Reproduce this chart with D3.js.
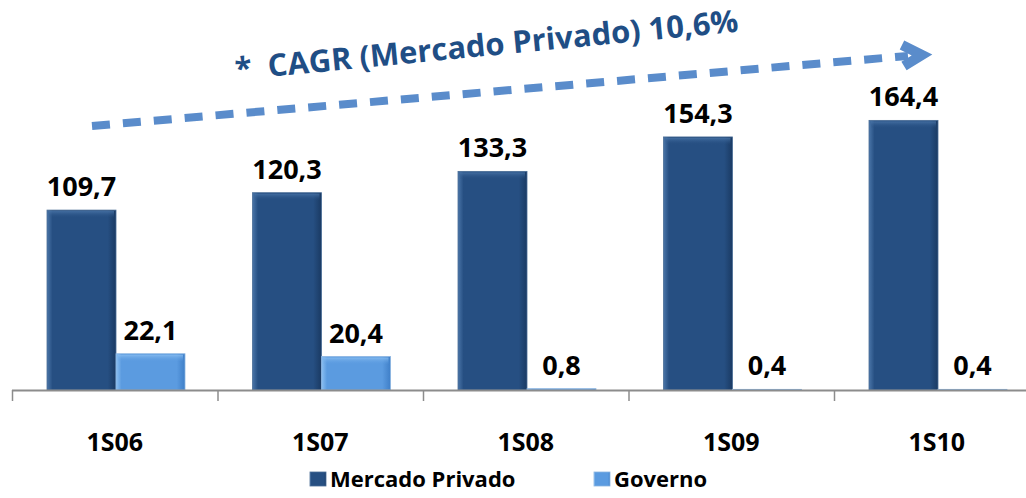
<!DOCTYPE html>
<html>
<head>
<meta charset="utf-8">
<script src="https://cdn.jsdelivr.net/npm/d3@7"></script>
<style>
body{margin:0;background:#fff;}
text{font-family:"Open Sans",sans-serif;font-weight:bold;}
</style>
</head>
<body>
<script>
var categories=["1S06","1S07","1S08","1S09","1S10"];
var series=["Mercado Privado","Governo"];
var privado=[109.7,120.3,133.3,154.3,164.4];
var governo=[22.1,20.4,0.8,0.4,0.4];
var cagrLabel="*  CAGR (Mercado Privado) 10,6%";
var colours=["#264f82","#5b9be0"];
var dark=["#1a3a63","#3f7fc8"];
var light=["#4a75a8","#8cc0f2"];

var width=1026,height=498;
var svg=d3.select("body").append("svg").attr("width",width).attr("height",height);
var defs=svg.append("defs");

// bevel-ish gradients for the bars
colours.forEach(function(c,i){
  var g=defs.append("linearGradient").attr("id","grad"+i).attr("x1",0).attr("x2",1).attr("y1",0).attr("y2",0);
  g.append("stop").attr("offset","0%").attr("stop-color",light[i]);
  g.append("stop").attr("offset","8%").attr("stop-color",c);
  g.append("stop").attr("offset","88%").attr("stop-color",c);
  g.append("stop").attr("offset","100%").attr("stop-color",dark[i]);
  var t=defs.append("linearGradient").attr("id","top"+i).attr("x1",0).attr("x2",0).attr("y1",0).attr("y2",1);
  t.append("stop").attr("offset","0%").attr("stop-color",light[i]);
  t.append("stop").attr("offset","100%").attr("stop-color",c).attr("stop-opacity",0);
});

var baseY=390;
var x=d3.scaleBand().domain(categories).range([12,12+5*205.5]).paddingInner(0).paddingOuter(0);
var x1=d3.scaleBand().domain(series).range([35,173]).padding(0);
var y=d3.scaleLinear().domain([0,170]).range([baseY,baseY-170*1.64]);

var data=categories.map(function(c,i){return {cat:c,vals:[privado[i],governo[i]]};});

var groups=svg.selectAll(".grp").data(data).enter().append("g")
  .attr("class","grp")
  .attr("transform",function(d){return "translate("+x(d.cat)+",0)";});

groups.each(function(d){
  var g=d3.select(this);
  d.vals.forEach(function(v,i){
    var bx=x1(series[i]),bw=x1.bandwidth(),top=y(v),h=baseY-top;
    g.append("rect").attr("x",bx).attr("y",top).attr("width",bw).attr("height",h)
      .attr("fill","url(#grad"+i+")").attr("stroke",i==0?"#4a6d96":"#8ab4e0").attr("stroke-width",0.8);
    if(h>8){
      g.append("rect").attr("x",bx+2).attr("y",top+1).attr("width",bw-4).attr("height",Math.min(7,h-2))
        .attr("fill","url(#top"+i+")").attr("opacity",0.8);
    }
    g.append("text").attr("x",bx+bw/2).attr("y",top-14)
      .attr("text-anchor","middle").style("font-size","27px").attr("fill","#000")
      .text(d3.format(".1f")(v).replace(".",","));
  });
});

// axis
var axis=svg.append("g").attr("transform","translate(0,"+baseY+")")
  .call(d3.axisBottom(x).tickSize(0).tickPadding(43));
axis.select(".domain").remove();
axis.selectAll("text").style("font-size","25px").style("font-family","'Open Sans',sans-serif").attr("fill","#000");
svg.append("line").attr("x1",12).attr("x2",width).attr("y1",baseY+0.5).attr("y2",baseY+0.5)
  .attr("stroke","#8c8c8c").attr("stroke-width",2);
svg.selectAll(".tk").data(categories).enter().append("line")
  .attr("x1",function(d){return x(d)+0.5;}).attr("x2",function(d){return x(d)+0.5;})
  .attr("y1",baseY).attr("y2",baseY+11).attr("stroke","#8c8c8c").attr("stroke-width",1.5);

// CAGR arrow
var ax0=92,ay0=126,ax1=918,ay1=55;
svg.append("line").attr("x1",ax0).attr("y1",ay0).attr("x2",ax1-10).attr("y2",ay1+0.9)
  .attr("stroke","#5a8ccb").attr("stroke-width",8).attr("stroke-dasharray","18,13");
svg.append("path").attr("d","M"+(ax1-16)+","+(ay1-10)+" L"+(ax1+4)+","+(ay1)+" L"+(ax1-14)+","+(ay1+11))
  .attr("fill","none").attr("stroke","#5a8ccb").attr("stroke-width",10).attr("stroke-linejoin","miter");

svg.append("text").attr("transform","translate(236,80) rotate(-5.5)")
  .style("font-size","31px").attr("fill","#1f4e85")
  .attr("xml:space","preserve").text(cagrLabel);

// legend
var legX=[310,594];
series.forEach(function(s,i){
  svg.append("rect").attr("x",legX[i]).attr("y",472).attr("width",16).attr("height",14)
    .attr("fill","url(#grad"+i+")").attr("stroke",i==0?"#4a6d96":"#8ab4e0").attr("stroke-width",0.8);
  svg.append("text").attr("x",legX[i]+20).attr("y",487).style("font-size","22px").attr("fill","#000").text(s);
});
</script>
</body>
</html>
